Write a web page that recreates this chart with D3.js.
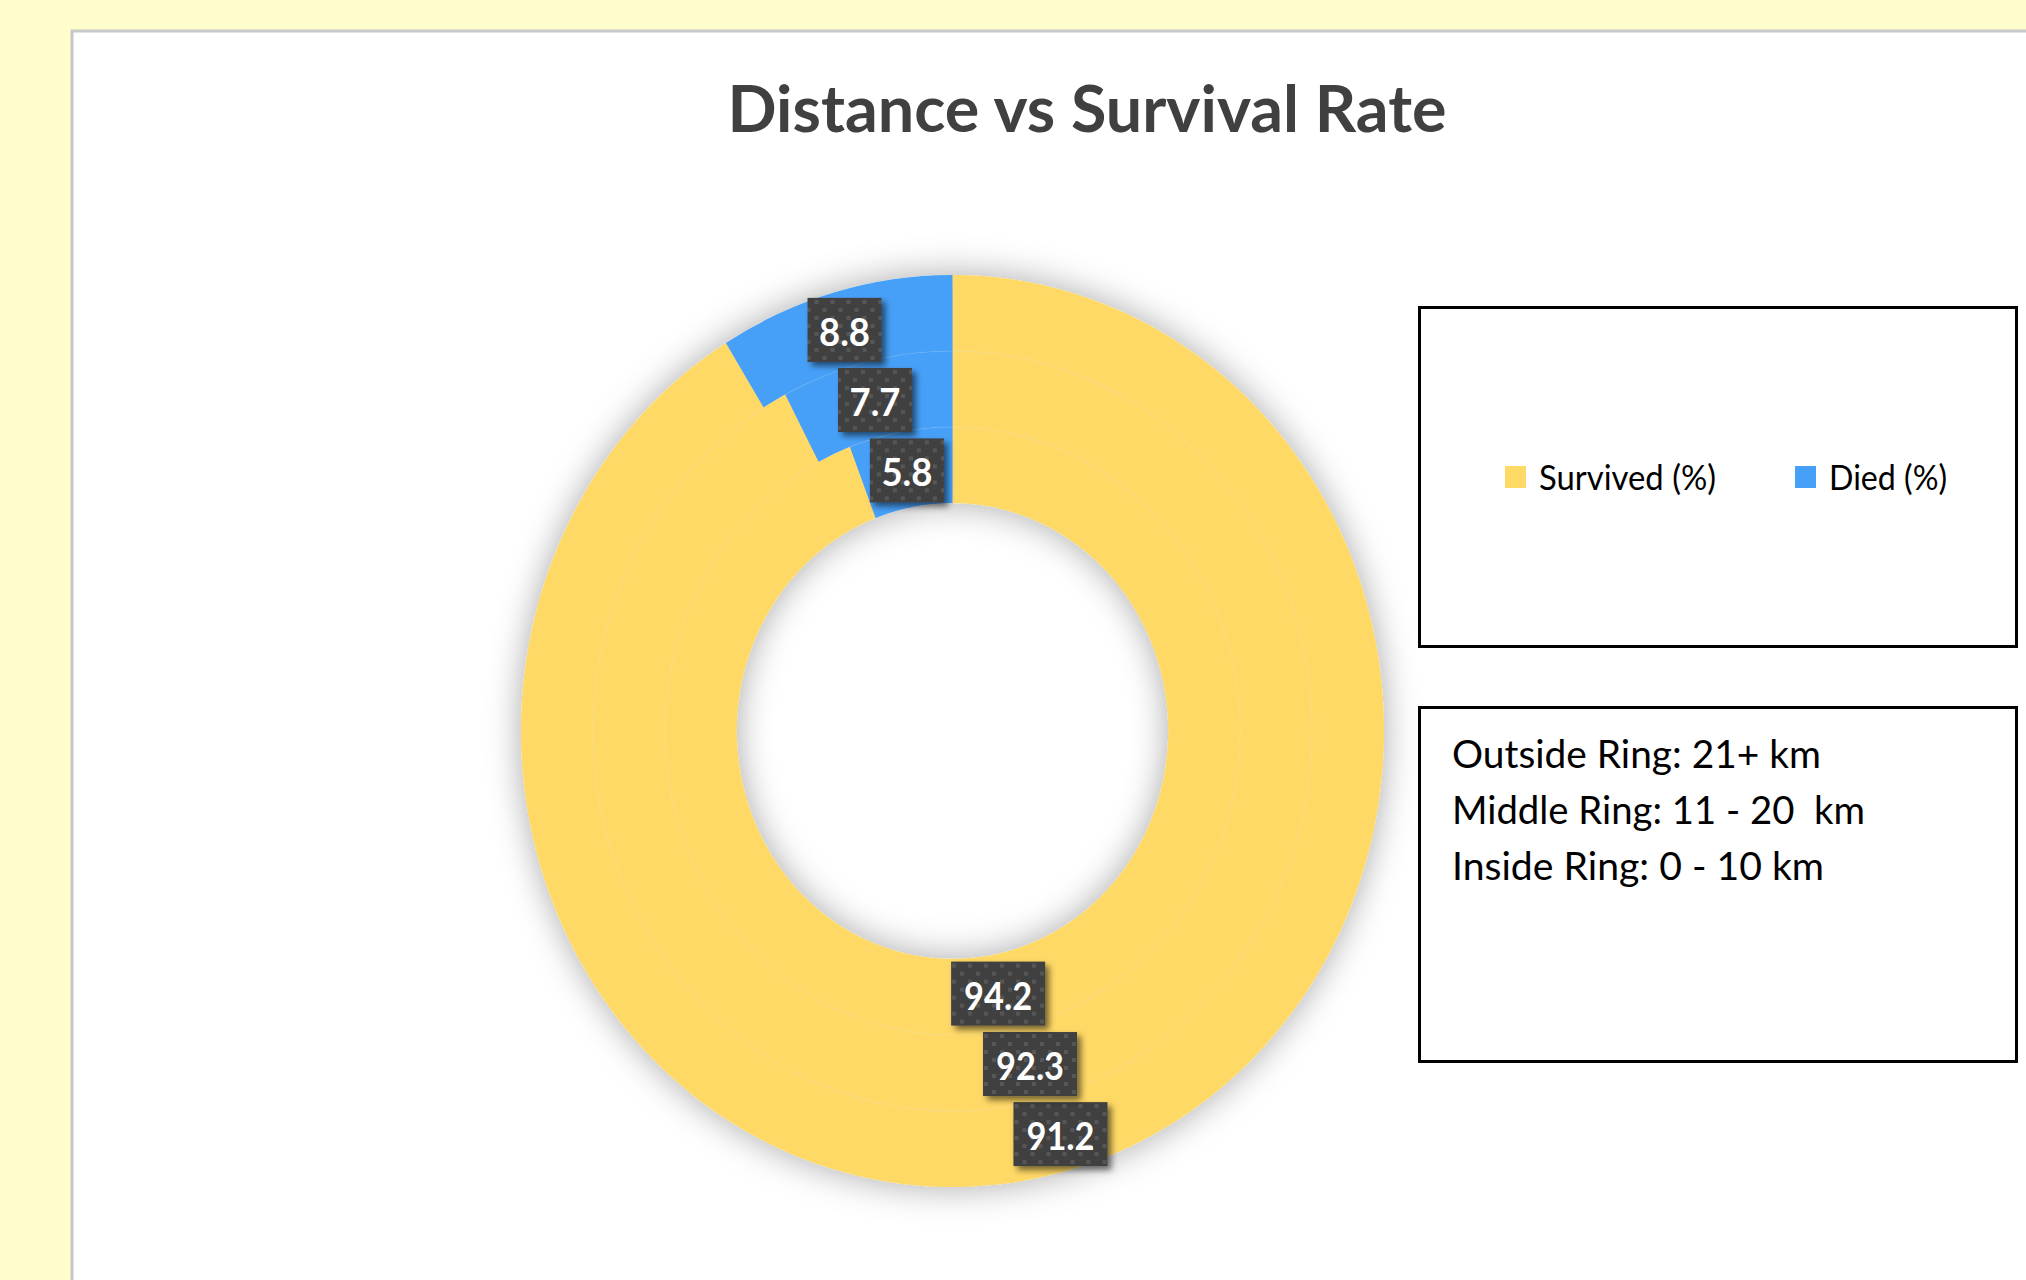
<!DOCTYPE html>
<html>
<head>
<meta charset="utf-8">
<script src="https://cdn.jsdelivr.net/npm/d3@7"></script>
<style>
  body { margin: 0; background: #FFFDCC; }
  svg { display: block; font-family: Lato, "Open Sans", sans-serif; }
</style>
</head>
<body>
<div class="chartHolder"></div>
<script>
var rings = ["21+ km", "11 - 20 km", "0 - 10 km"];
var survived = [91.2, 92.3, 94.2];
var died = [8.8, 7.7, 5.8];
var seriesNames = ["Survived (%)", "Died (%)"];
var notes = ["Outside Ring: 21+ km", "Middle Ring: 11 - 20  km", "Inside Ring: 0 - 10 km"];

var svgW = 2026, svgH = 1280;
var cx = 952.5, cy = 731, outerR = 456, holeR = 228;
var sx = 431.5 / 456;
var colors = d3.scaleOrdinal().domain(seriesNames).range(["#FFD966", "#46A0F8"]);

var svg = d3.select(".chartHolder").append("svg").attr("width", svgW).attr("height", svgH);
var defs = svg.append("defs");

var sh = defs.append("filter").attr("id", "ringShadow").attr("x", "-20%").attr("y", "-20%").attr("width", "140%").attr("height", "140%");
sh.append("feGaussianBlur").attr("in", "SourceAlpha").attr("stdDeviation", 18).attr("result", "blur");
sh.append("feFlood").attr("flood-color", "#000").attr("flood-opacity", 0.34);
sh.append("feComposite").attr("in2", "blur").attr("operator", "in").attr("result", "shadow");
var m = sh.append("feMerge");
m.append("feMergeNode").attr("in", "shadow");
m.append("feMergeNode").attr("in", "SourceGraphic");

var lsh = defs.append("filter").attr("id", "labelShadow").attr("x", "-20%").attr("y", "-20%").attr("width", "150%").attr("height", "150%");
lsh.append("feDropShadow").attr("dx", 4).attr("dy", 4).attr("stdDeviation", 3).attr("flood-color", "#000").attr("flood-opacity", 0.55);

var pat = defs.append("pattern").attr("id", "dots").attr("patternUnits", "userSpaceOnUse").attr("width", 16).attr("height", 16);
pat.append("rect").attr("width", 16).attr("height", 16).attr("fill", "#404040");
pat.append("rect").attr("x", 2).attr("y", 2).attr("width", 4).attr("height", 4).attr("fill", "#575757");
pat.append("rect").attr("x", 10).attr("y", 10).attr("width", 4).attr("height", 4).attr("fill", "#575757");

// card
svg.append("rect").attr("x", 72).attr("y", 31).attr("width", 2100).attr("height", 1400)
  .attr("fill", "#fff").attr("stroke", "#C8C8C8").attr("stroke-width", 3);

svg.append("text").attr("x", 1087).attr("y", 132).attr("text-anchor", "middle")
  .attr("font-size", 65).attr("font-weight", "bold").attr("fill", "#404040")
  .attr("textLength", 719).attr("lengthAdjust", "spacingAndGlyphs")
  .text("Distance vs Survival Rate");

var ringScale = d3.scaleBand().domain(rings.slice().reverse()).range([holeR, outerR]);
var pie = d3.pie().sort(null).value(function (d) { return d.value; });

var ringData = rings.map(function (r, i) {
  return { ring: r, slices: pie([{ name: seriesNames[0], value: survived[i] }, { name: seriesNames[1], value: died[i] }]) };
});

var donut = svg.append("g").attr("transform", "translate(" + cx + "," + cy + ")");
var shape = donut.append("g").attr("transform", "scale(" + sx + ",1)");
var ringsG = shape.append("g").attr("filter", "url(#ringShadow)");

ringData.forEach(function (rd) {
  var arc = d3.arc().innerRadius(ringScale(rd.ring)).outerRadius(ringScale(rd.ring) + ringScale.bandwidth());
  ringsG.selectAll(null).data(rd.slices).enter().append("path")
    .attr("d", arc)
    .attr("fill", function (d) { return colors(d.data.name); });
  rd.arc = arc;
});

// faint separators between rings
shape.selectAll(".sep").data(rings.slice(1)).enter().append("ellipse")
  .attr("class", "sep").attr("rx", function (d) { return ringScale(d) + ringScale.bandwidth(); })
  .attr("ry", function (d) { return ringScale(d) + ringScale.bandwidth(); })
  .attr("fill", "none").attr("stroke", "#fff").attr("stroke-opacity", 0.12).attr("stroke-width", 1);

var labels = [];
ringData.forEach(function (rd) {
  rd.slices.forEach(function (s) {
    var c = rd.arc.centroid(s);
    labels.push({ x: c[0] * sx, y: c[1], text: s.data.value.toFixed(1) });
  });
});

var lab = donut.selectAll(".lab").data(labels).enter().append("g").attr("class", "lab")
  .attr("transform", function (d) { return "translate(" + d.x + "," + (d.y + 1) + ")"; });
lab.append("rect")
  .attr("x", function (d) { return d.text.length > 3 ? -47 : -37; })
  .attr("width", function (d) { return d.text.length > 3 ? 94 : 74; })
  .attr("y", -32).attr("height", 64)
  .attr("fill", "url(#dots)").attr("filter", "url(#labelShadow)");
lab.append("text").attr("text-anchor", "middle").attr("y", 16)
  .attr("font-size", 38).attr("font-weight", "bold").attr("fill", "#fff")
  .attr("textLength", function (d) { return d.text.length > 3 ? 68 : 51; }).attr("lengthAdjust", "spacingAndGlyphs")
  .text(function (d) { return d.text; });

// legend box
svg.append("rect").attr("x", 1419.5).attr("y", 307.5).attr("width", 597).attr("height", 339)
  .attr("fill", "#fff").attr("stroke", "#000").attr("stroke-width", 3);
var legX = d3.scaleOrdinal().domain(seriesNames).range([1505, 1795]);
var legW = [177, 118];
var leg = svg.selectAll(".legend").data(seriesNames).enter().append("g").attr("class", "legend")
  .attr("transform", function (d) { return "translate(" + legX(d) + ",466)"; });
leg.append("rect").attr("width", 21).attr("height", 22).attr("fill", function (d) { return colors(d); });
leg.append("text").attr("x", 34).attr("y", 24).attr("font-size", 35).attr("fill", "#000")
  .attr("textLength", function (d, i) { return legW[i]; }).attr("lengthAdjust", "spacingAndGlyphs")
  .text(function (d) { return d; });

// notes box
svg.append("rect").attr("x", 1419.5).attr("y", 707.5).attr("width", 597).attr("height", 354)
  .attr("fill", "#fff").attr("stroke", "#000").attr("stroke-width", 3);
var noteW = [369, 413, 372];
svg.selectAll(".note").data(notes).enter().append("text").attr("class", "note")
  .attr("x", 1452).attr("y", function (d, i) { return 768 + i * 56; })
  .attr("font-size", 39).attr("fill", "#000").attr("xml:space", "preserve")
  .attr("textLength", function (d, i) { return noteW[i]; }).attr("lengthAdjust", "spacingAndGlyphs")
  .text(function (d) { return d; });
</script>
</body>
</html>
